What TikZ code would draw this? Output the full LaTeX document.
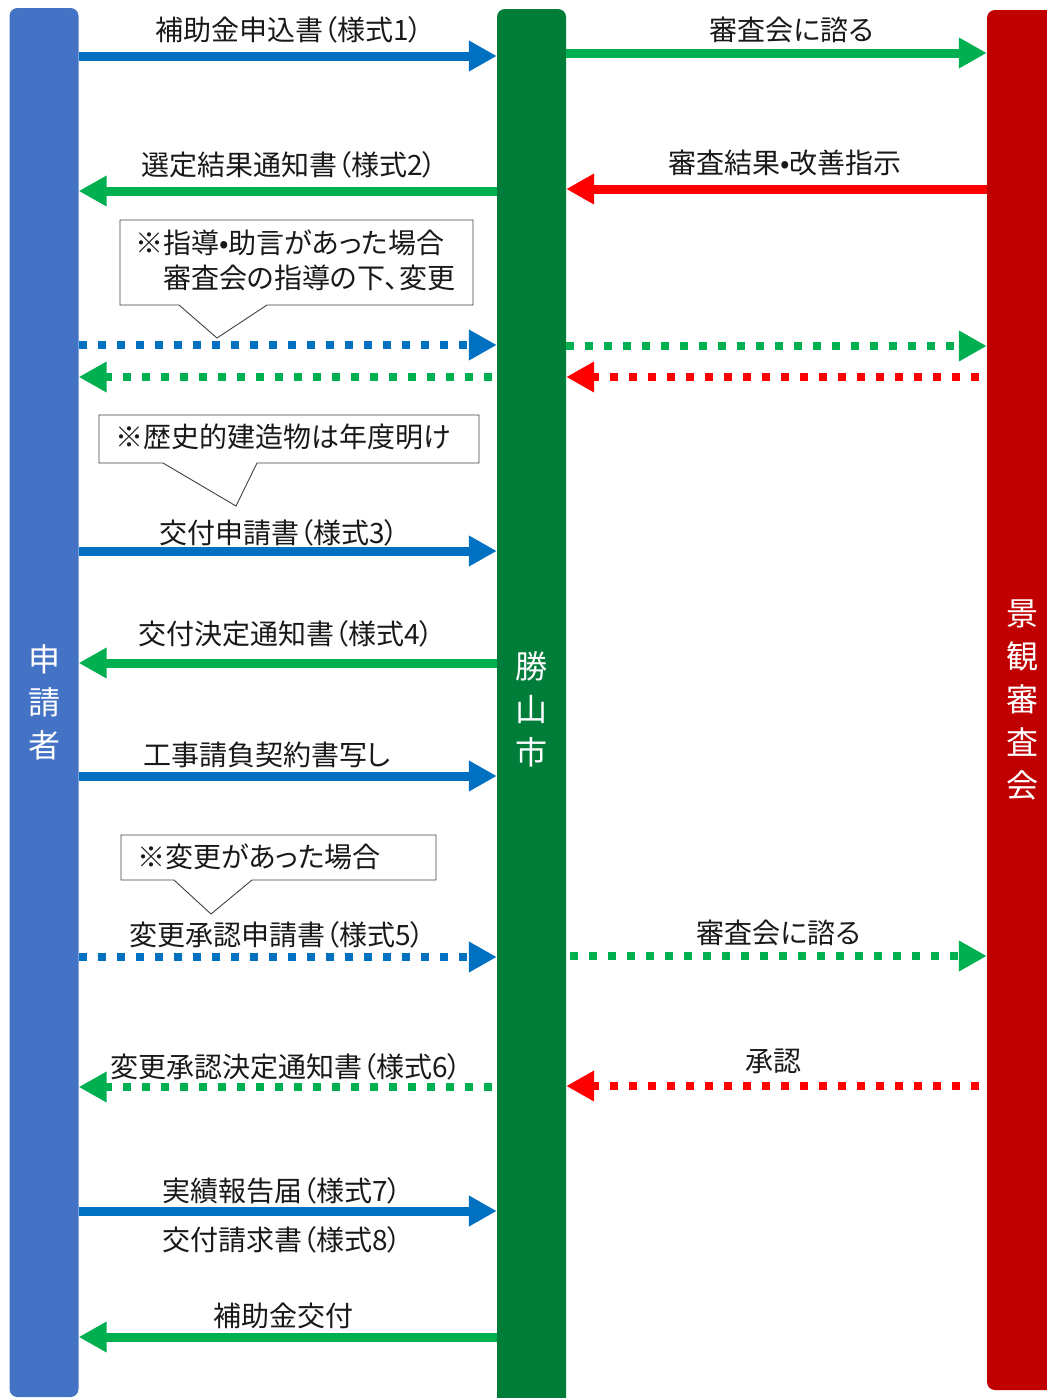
\documentclass[tikz,border=0pt]{standalone}
\usepackage{fontspec}
\setmainfont{Noto Sans CJK JP}[RawFeature=+palt]
\usetikzlibrary{arrows.meta}

\definecolor{barblue}{HTML}{4472C4}
\definecolor{bargreen}{HTML}{007E39}
\definecolor{barred}{HTML}{C00000}
\definecolor{lineblue}{HTML}{0070C0}
\definecolor{linegreen}{HTML}{00B050}
\definecolor{linered}{HTML}{FF0000}

\tikzset{
  lane/.style={rectangle, rounded corners=8pt, minimum width=69pt, text=white,
    align=center, inner sep=0pt, font=\fontsize{32}{43}\selectfont},
  flow/.style={line width=9pt, -{Triangle[length=28pt,width=29pt]}},
  flowdot/.style={line width=8pt, dash pattern=on 8pt off 11pt,
    -{Triangle[length=28pt,width=29pt]}},
  lbl/.style={font=\fontsize{28}{30}\selectfont, text=black!90, inner sep=0pt},
  memo/.style={font=\fontsize{28}{35}\selectfont, text=black!90, align=left, inner sep=0pt},
  memoline/.style={draw=black!75, line width=0.9pt},
}

\begin{document}
\begin{tikzpicture}[x=1pt,y=-1pt]
\useasboundingbox (0,0) rectangle (1047,1398);

% three lanes
\node[lane, fill=barblue, minimum height=1389pt] (app) at (44,702.5) {申\\請\\者};
\node[lane, fill=bargreen, minimum height=1400pt] (city) at (531.5,709) {勝\\山\\市};
\node[lane, fill=barred, minimum width=70pt, minimum height=1380pt] (board) at (1022,700) {景\\観\\審\\査\\会};

% application
\draw[flow, lineblue] (app.east |- 0,56) -- (city.west |- 0,56);
\node[lbl] (t1) at (289,30) {補助金申込書（様式1）};
\draw[flow, linegreen] (city.east |- 0,53) -- (board.west |- 0,53);
\node[lbl] (t2) at (792,30) {審査会に諮る};

% selection result
\draw[flow, linegreen] (city.west |- 0,191) -- (app.east |- 0,191);
\node[lbl] (t3) at (289,165) {選定結果通知書（様式2）};
\draw[flow, linered] (board.west |- 0,189) -- (city.east |- 0,189);
\node[lbl] (t4) at (785,163) {審査結果•改善指示};

% guidance loop
\draw[memoline] (120,220) -- (473,220) -- (473,305) -- (267,305) -- (217,338) -- (179,305) -- (120,305) -- cycle;
\node[memo, anchor=west] (m1) at (135,260) {※指導•助言があった場合\\　審査会の指導の下、変更};
\draw[flowdot, lineblue] (app.east |- 0,345) -- (city.west |- 0,345);
\draw[flowdot, linegreen] (city.east |- 0,346) -- (board.west |- 0,346);
\draw[flowdot, linegreen] ([xshift=-5pt]city.west |- 0,377) -- (app.east |- 0,377);
\draw[flowdot, linered] ([xshift=-8pt]board.west |- 0,377) -- (city.east |- 0,377);

% grant application
\draw[memoline] (99,415) -- (479,415) -- (479,463) -- (257,463) -- (236,506) -- (163,463) -- (99,463) -- cycle;
\node[memo, anchor=west] (m2) at (115,437) {※歴史的建造物は年度明け};
\draw[flow, lineblue] (app.east |- 0,551) -- (city.west |- 0,551);
\node[lbl] (t5) at (279,533) {交付申請書（様式3）};
\draw[flow, linegreen] (city.west |- 0,663) -- (app.east |- 0,663);
\node[lbl] (t6) at (286,634) {交付決定通知書（様式4）};
\draw[flow, lineblue] (app.east |- 0,776) -- (city.west |- 0,776);
\node[lbl] (t7) at (267,755) {工事請負契約書写し};

% change approval
\draw[memoline] (121,835) -- (436,835) -- (436,880) -- (252,880) -- (211,914) -- (174,880) -- (121,880) -- cycle;
\node[memo, anchor=west] (m3) at (137,857) {※変更があった場合};
\draw[flowdot, lineblue] (app.east |- 0,957) -- (city.west |- 0,957);
\node[lbl] (t8) at (277,935) {変更承認申請書（様式5）};
\draw[flowdot, linegreen] ([xshift=4pt]city.east |- 0,956) -- (board.west |- 0,956);
\node[lbl] (t9) at (779,933) {審査会に諮る};
\draw[flowdot, linegreen] ([xshift=-5pt]city.west |- 0,1087) -- (app.east |- 0,1087);
\node[lbl] (t10) at (286,1067) {変更承認決定通知書（様式6）};
\draw[flowdot, linered] ([xshift=-8pt]board.west |- 0,1086) -- (city.east |- 0,1086);
\node[lbl] (t11) at (773,1061) {承認};

% completion and payment
\draw[flow, lineblue] (app.east |- 0,1211) -- (city.west |- 0,1211);
\node[lbl] (t12) at (282,1191) {実績報告届（様式7）};
\node[lbl] (t13) at (282,1240) {交付請求書（様式8）};
\draw[flow, linegreen] (city.west |- 0,1337) -- (app.east |- 0,1337);
\node[lbl] (t14) at (283,1316) {補助金交付};
\end{tikzpicture}
\end{document}
